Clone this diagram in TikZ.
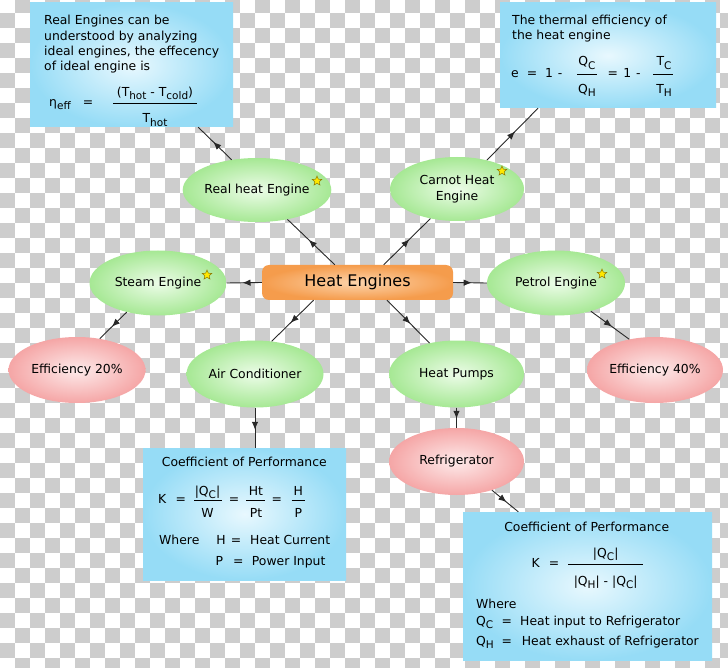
\documentclass[tikz,border=0pt]{standalone}
\usepackage{fontspec}
\setmainfont{DejaVu Sans}
\usetikzlibrary{shapes.geometric,arrows.meta,decorations.markings}
\definecolor{checkgray}{RGB}{205,205,205}
\definecolor{grnin}{RGB}{236,252,232}
\definecolor{grnout}{RGB}{166,232,148}
\definecolor{pnkin}{RGB}{253,234,234}
\definecolor{pnkout}{RGB}{245,166,166}
\definecolor{bluin}{RGB}{232,248,254}
\definecolor{bluout}{RGB}{150,220,246}
\definecolor{orgin}{RGB}{252,212,172}
\definecolor{orgout}{RGB}{245,156,76}
\definecolor{linegray}{RGB}{40,40,40}
\definecolor{staryellow}{RGB}{255,232,0}
\definecolor{starline}{RGB}{140,120,0}
\newcommand\fs{\fontsize{12.4}{15}\selectfont}
\newcommand\sbs[1]{\raisebox{-3.5pt}{\fontsize{10.5}{10.5}\selectfont #1}}
\begin{document}
\begin{tikzpicture}[x=1pt,y=-1pt,
  ell/.style={ellipse, inner sep=0pt, font=\fs, text=black},
  greenell/.style={ell, inner color=grnin, outer color=grnout},
  pinkell/.style={ell, inner color=pnkin, outer color=pnkout},
  infobox/.style={rectangle, inner sep=0pt, inner color=bluin, outer color=bluout},
  txt/.style={inner sep=0pt, font=\fs, text=black},
  staricon/.style={star, star points=5, star point ratio=2.2, minimum size=10pt, inner sep=0pt, fill=staryellow, draw=starline, line width=0.5pt},
  conn/.style={draw=linegray, line width=0.9pt, postaction={decorate},
    decoration={markings, mark=at position 0.55 with {\arrow{Latex[length=8pt,width=6.5pt]}}}},
  fracbar/.style={draw=black, line width=0.9pt}
]
\useasboundingbox (0,0) rectangle (728,668);
% checkerboard background
\begin{scope}
\clip (0,0) rectangle (728,668);
\fill[white] (0,0) rectangle (728,668);
\foreach \j in {-1,...,44}{
  \pgfmathtruncatemacro{\sa}{mod(\j+10,2)}
  \pgfmathtruncatemacro{\sb}{\sa+2}
  \foreach \i in {\sa,\sb,...,48}{
    \fill[checkgray] (\i*15,\j*15+13.3) rectangle ++(15,15);
  }
}
\end{scope}

% central node
\node[rectangle, rounded corners=7pt, inner sep=0pt, minimum width=191pt, minimum height=35pt,
  inner color=orgin, outer color=orgout, font=\fontsize{16}{16}\selectfont] (he) at (357.5,282.5) {Heat Engines};

% ellipses
\node[greenell, minimum width=137pt, minimum height=64pt] (real) at (257,190) {Real heat Engine};
\node[greenell, minimum width=134pt, minimum height=64pt, align=center, font=\fontsize{12.4}{16}\selectfont] (carnot) at (457,189) {Carnot Heat\\Engine};
\node[greenell, minimum width=137pt, minimum height=65pt] (steam) at (158,283) {Steam Engine};
\node[greenell, minimum width=138pt, minimum height=65pt] (petrol) at (556,283) {Petrol Engine};
\node[pinkell, minimum width=137pt, minimum height=66pt] (eff20) at (77,370) {Efficiency 20\%};
\node[pinkell, minimum width=136pt, minimum height=66pt] (eff40) at (655,370) {Efficiency 40\%};
\node[greenell, minimum width=137pt, minimum height=67pt] (ac) at (255,374) {Air Conditioner};
\node[greenell, minimum width=135pt, minimum height=67pt] (hp) at (456.5,374) {Heat Pumps};
\node[pinkell, minimum width=135pt, minimum height=67pt] (ref) at (456.5,461.5) {Refrigerator};

% stars
\node[staricon] (s1) at (317,181) {};
\node[staricon] (s2) at (502,171) {};
\node[staricon] (s3) at (207,275) {};
\node[staricon] (s4) at (602,274) {};

% info boxes
\node[infobox, minimum width=203pt, minimum height=124pt] (tlbox) at (131.5,65) {};
\node[infobox, minimum width=216pt, minimum height=105pt] (trbox) at (608,55.5) {};
\node[infobox, minimum width=203pt, minimum height=132pt] (blbox) at (244.5,514) {};
\node[infobox, minimum width=249pt, minimum height=148pt] (brbox) at (587.5,586) {};

% top-left box text
\node[txt, anchor=base west] (tl1) at (44,25) {Real Engines can be};
\node[txt, anchor=base west] (tl2) at (44,40.5) {understood by analyzing};
\node[txt, anchor=base west] (tl3) at (44,56) {ideal engines, the effecency};
\node[txt, anchor=base west] (tl4) at (44,71) {of ideal engine is};
\node[txt, anchor=base west] (tl5) at (49,106.5) {η\sbs{eff}};
\node[txt, anchor=base] (tl6) at (88,106.5) {=};
\node[txt, anchor=base] (tl7) at (155,96.5) {(T\sbs{hot} - T\sbs{cold})};
\draw[fracbar] (113,103) -- (197,103);
\node[txt, anchor=base] (tl8) at (155,123) {T\sbs{hot}};

% top-right box text
\node[txt, anchor=base west] (tr1) at (512,25) {The thermal efficiency of};
\node[txt, anchor=base west] (tr2) at (512,40) {the heat engine};
\node[txt, anchor=base] (tr3) at (515,78) {e};
\node[txt, anchor=base] (tr4) at (532,78) {=};
\node[txt, anchor=base] (tr5) at (549,78) {1};
\node[txt, anchor=base] (tr6) at (560,78) {-};
\node[txt, anchor=base] (tr7) at (587,66) {Q\sbs{C}};
\draw[fracbar] (577.3,74) -- (597.3,74);
\node[txt, anchor=base] (tr8) at (587,93.5) {Q\sbs{H}};
\node[txt, anchor=base] (tr9) at (612.7,78) {=};
\node[txt, anchor=base] (tr10) at (627.3,78) {1};
\node[txt, anchor=base] (tr11) at (638.3,78) {-};
\node[txt, anchor=base] (tr12) at (664,66) {T\sbs{C}};
\draw[fracbar] (653.3,74) -- (673.3,74);
\node[txt, anchor=base] (tr13) at (664,93.5) {T\sbs{H}};

% bottom-left box text
\node[txt, anchor=base] (bl1) at (244.3,466) {Coefficient of Performance};
\node[txt, anchor=base] (bl2) at (162.3,503.5) {K};
\node[txt, anchor=base] (bl3) at (180.7,503.5) {=};
\node[txt, anchor=base] (bl4) at (207.5,495) {|Q\sbs{C}|};
\draw[fracbar] (194,500) -- (221.7,500);
\node[txt, anchor=base] (bl5) at (207.5,517) {W};
\node[txt, anchor=base] (bl6) at (234,503.5) {=};
\node[txt, anchor=base] (bl7) at (256,495.5) {Ht};
\draw[fracbar] (246,500) -- (265,500);
\node[txt, anchor=base] (bl8) at (256,517) {Pt};
\node[txt, anchor=base] (bl9) at (276.7,503.5) {=};
\node[txt, anchor=base] (bl10) at (298.3,495.5) {H};
\draw[fracbar] (291.7,500) -- (305,500);
\node[txt, anchor=base] (bl11) at (298.3,517) {P};
\node[txt, anchor=base west] (bl12) at (159,544) {Where};
\node[txt, anchor=base] (bl13) at (221,544) {H};
\node[txt, anchor=base] (bl14) at (236,544) {=};
\node[txt, anchor=base west] (bl15) at (250,544) {Heat Current};
\node[txt, anchor=base] (bl16) at (219.3,565) {P};
\node[txt, anchor=base] (bl17) at (238.3,565) {=};
\node[txt, anchor=base west] (bl18) at (251.7,565) {Power Input};

% bottom-right box text
\node[txt, anchor=base] (br1) at (586.7,531) {Coefficient of Performance};
\node[txt, anchor=base] (br2) at (535.7,567.5) {K};
\node[txt, anchor=base] (br3) at (554,567.5) {=};
\node[txt, anchor=base] (br4) at (605.7,557) {|Q\sbs{C}|};
\draw[fracbar] (568.3,564) -- (643.3,564);
\node[txt, anchor=base] (br5) at (605.7,585) {|Q\sbs{H}| - |Q\sbs{C}|};
\node[txt, anchor=base west] (br6) at (476,608) {Where};
\node[txt, anchor=base west] (br7) at (476,625) {Q\sbs{C}};
\node[txt, anchor=base] (br8) at (506.7,625) {=};
\node[txt, anchor=base west] (br9) at (520,625) {Heat input to Refrigerator};
\node[txt, anchor=base west] (br10) at (476,645) {Q\sbs{H}};
\node[txt, anchor=base] (br11) at (506.7,645) {=};
\node[txt, anchor=base west] (br12) at (521.7,645) {Heat exhaust of Refrigerator};

% connectors
\draw[conn] (he.142) -- (real.316);
\draw[conn] (he.34) -- (carnot.228);
\draw[conn] (he.west) -- (steam.east);
\draw[conn] (he.east) -- (petrol.west);
\draw[conn] (he.202) -- (ac.63);
\draw[conn] (he.329) -- (hp.131);
\draw[conn] (real.130) -- (tlbox.-43);
\draw[conn] (carnot.44) -- (trbox.217);
\draw[conn] (steam.223) -- (eff20.54);
\draw[conn] (petrol.321) -- (eff40.130);
\draw[conn] (ac.south) -- (ac.south |- blbox.north);
\draw[conn] (hp.south) -- (ref.north);
\draw[conn] (ref.321) -- (brbox.133.6);
\end{tikzpicture}
\end{document}
